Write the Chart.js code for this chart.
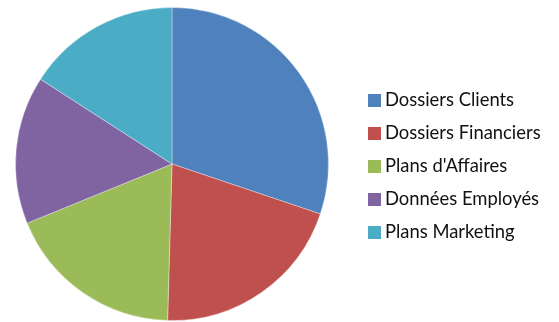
<!DOCTYPE html>
<html>
<head>
<meta charset="utf-8">
<script src="https://cdn.jsdelivr.net/npm/chart.js@4/dist/chart.umd.min.js"></script>
<style>
  html, body { margin: 0; padding: 0; background: #fff; }
  #wrap { position: relative; width: 559px; height: 322px; }
  #legend { position: absolute; left: 368px; top: 0; font-family: Lato, "Open Sans", sans-serif; font-size: 18.4px; color: #111; }
  .item { position: absolute; left: 0; white-space: nowrap; height: 20px; line-height: 20px; }
  .box { display: inline-block; width: 13px; height: 13px; vertical-align: -1px; margin-right: 4px; }
</style>
</head>
<body>
<div id="wrap">
  <canvas id="pie" width="559" height="322"></canvas>
  <div id="legend"></div>
</div>
<script>
const labels = ['Dossiers Clients', 'Dossiers Financiers', "Plans d'Affaires", 'Données Employés', 'Plans Marketing'];
const values = [30.2, 20.3, 18.4, 15.3, 15.9];
const colors = ['#4F81BD', '#C0504D', '#9BBB59', '#8064A2', '#4BACC6'];

new Chart(document.getElementById('pie'), {
    type: 'pie',
    data: {
        labels: labels,
        datasets: [{
            data: values,
            backgroundColor: colors,
            borderColor: 'rgba(255,255,255,0.35)',
            borderWidth: 1
        }]
    },
    options: {
        responsive: false,
        animation: false,
        layout: { padding: { left: 15, top: 7, right: 230, bottom: 1 } },
        plugins: { legend: { display: false }, tooltip: { enabled: false } }
    }
});

// legend on the right, one row per slice
const legend = document.getElementById('legend');
labels.forEach((name, i) => {
    const row = document.createElement('div');
    row.className = 'item';
    row.style.top = (89 + i * 33) + 'px';
    row.innerHTML = '<span class="box" style="background:' + colors[i] + '"></span>' + name;
    legend.appendChild(row);
});
</script>
</body>
</html>
